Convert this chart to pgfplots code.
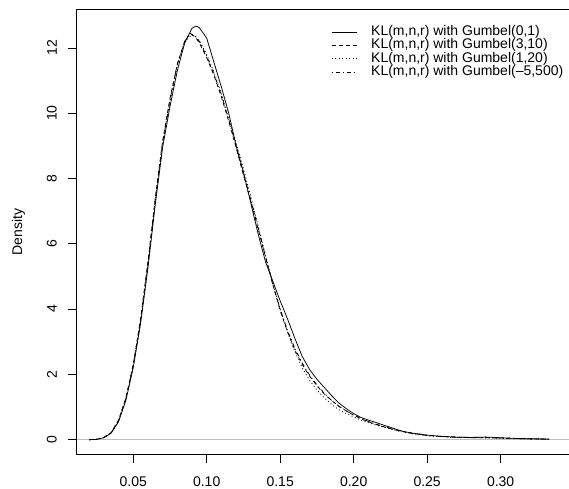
\documentclass[border=0pt]{standalone}
\usepackage{graphicx}
\usepackage{pgfplots}
\pgfplotsset{compat=1.18}
\usepackage{pgfplotstable}
\usepackage{fontspec}
\setmainfont{Liberation Sans}

\pgfplotstableread{
x y
0.020 0
0.025 0.01
0.030 0.06
0.035 0.2
0.040 0.55
0.045 1.2
0.050 2.2
0.055 3.55
0.060 5.25
0.065 7.2
0.070 8.95
0.075 10.2
0.080 11.3
0.085 12.15
0.090 12.6
0.0927 12.67
0.095 12.62
0.100 12.3
0.105 11.55
0.110 10.8
0.115 10.0
0.120 9.0
0.125 8.2
0.130 7.25
0.135 6.3
0.140 5.45
0.145 4.85
0.150 4.25
0.155 3.7
0.160 3.1
0.165 2.55
0.170 2.15
0.175 1.85
0.180 1.6
0.185 1.35
0.190 1.12
0.195 0.95
0.200 0.8
0.205 0.68
0.210 0.6
0.215 0.53
0.220 0.45
0.225 0.38
0.230 0.3
0.235 0.24
0.240 0.2
0.245 0.17
0.250 0.14
0.260 0.1
0.270 0.075
0.280 0.07
0.290 0.08
0.300 0.06
0.310 0.04
0.320 0.03
0.333 0.02
}\gumA

\pgfplotstableread{
x y
0.020 0
0.025 0.01
0.030 0.07
0.035 0.22
0.040 0.6
0.045 1.28
0.050 2.3
0.055 3.7
0.060 5.45
0.065 7.4
0.070 9.15
0.075 10.45
0.080 11.5
0.085 12.2
0.0886 12.43
0.092 12.35
0.095 12.15
0.100 11.7
0.105 11.15
0.110 10.5
0.115 9.75
0.120 8.95
0.125 8.1
0.130 7.3
0.135 6.45
0.140 5.6
0.145 4.75
0.150 3.95
0.155 3.3
0.160 2.75
0.165 2.3
0.170 1.95
0.175 1.65
0.180 1.4
0.185 1.2
0.190 1.02
0.195 0.88
0.200 0.75
0.205 0.64
0.210 0.55
0.215 0.47
0.220 0.4
0.225 0.34
0.230 0.28
0.240 0.19
0.250 0.13
0.260 0.1
0.270 0.08
0.280 0.06
0.290 0.06
0.300 0.05
0.310 0.035
0.320 0.025
0.333 0.015
}\gumB

\pgfplotstableread{
x y
0.020 0
0.025 0.01
0.030 0.06
0.035 0.21
0.040 0.57
0.045 1.25
0.050 2.25
0.055 3.6
0.060 5.35
0.065 7.3
0.070 9.05
0.075 10.35
0.080 11.45
0.085 12.15
0.0895 12.4
0.093 12.33
0.096 12.15
0.100 11.8
0.105 11.25
0.110 10.6
0.115 9.9
0.120 9.1
0.125 8.3
0.130 7.45
0.135 6.55
0.140 5.65
0.145 4.8
0.150 4.0
0.155 3.3
0.160 2.7
0.165 2.2
0.170 1.82
0.175 1.52
0.180 1.28
0.185 1.08
0.190 0.92
0.195 0.8
0.200 0.7
0.205 0.6
0.210 0.52
0.215 0.45
0.220 0.39
0.225 0.33
0.230 0.27
0.240 0.18
0.250 0.12
0.260 0.09
0.270 0.07
0.280 0.06
0.290 0.055
0.300 0.045
0.310 0.03
0.320 0.02
0.333 0.01
}\gumC

\pgfplotstableread{
x y
0.020 0
0.025 0.01
0.030 0.065
0.035 0.21
0.040 0.58
0.045 1.26
0.050 2.28
0.055 3.65
0.060 5.4
0.065 7.35
0.070 9.1
0.075 10.4
0.080 11.5
0.085 12.2
0.0885 12.45
0.092 12.38
0.095 12.2
0.100 11.75
0.105 11.2
0.110 10.55
0.115 9.8
0.120 9.0
0.125 8.15
0.130 7.35
0.135 6.5
0.140 5.6
0.145 4.75
0.150 4.0
0.155 3.35
0.160 2.8
0.165 2.35
0.170 1.98
0.175 1.68
0.180 1.42
0.185 1.2
0.190 1.02
0.195 0.88
0.200 0.76
0.205 0.65
0.210 0.56
0.215 0.48
0.220 0.41
0.225 0.35
0.230 0.29
0.240 0.2
0.250 0.14
0.260 0.1
0.270 0.08
0.280 0.065
0.290 0.07
0.300 0.05
0.310 0.035
0.320 0.025
0.333 0.015
}\gumD

\definecolor{rgray}{RGB}{190,190,190}

\begin{document}
\begin{tikzpicture}
\path (0pt,0pt) rectangle (569pt,489pt);
\begin{axis}[
  at={(76.5pt,34.5pt)}, anchor=south west,
  scale only axis,
  width=492.5pt, height=445pt,
  xmin=0.01138, xmax=0.34624,
  ymin=-0.4438, ymax=13.177,
  clip=false,
  unbounded coords=jump,
  axis line style={draw=none},
  xtick={0.05,0.10,0.15,0.20,0.25,0.30},
  ytick={0,2,4,6,8,10,12},
  xtick pos=bottom, ytick pos=left,
  /pgf/number format/assume math mode=true,
  xticklabel style={/pgf/number format/fixed, /pgf/number format/fixed zerofill, /pgf/number format/precision=2,
     font=\fontsize{14}{16}\selectfont, anchor=north, inner sep=0pt, yshift=-13.6pt},
  yticklabel={\rotatebox{90}{\pgfmathprintnumber{\tick}}},
  yticklabel style={font=\fontsize{14}{16}\selectfont, anchor=east, inner sep=0pt, xshift=-11pt},
  scaled x ticks=false,
  tick align=outside,
  major tick length=8.4pt,
  every tick/.style={draw=black, line width=0.8pt},
  ylabel={Density},
  every axis y label/.style={at={(axis description cs:-0.1178,0.5)}, rotate=90, anchor=center, font=\fontsize{14}{16}\selectfont},
  legend style={at={(axis description cs:0.5182,0.9645)}, anchor=north west, draw=none, fill=none,
     inner sep=0pt, outer sep=0pt, column sep=13.4pt, row sep=0pt,
     font=\fontsize{14}{16}\selectfont,
     nodes={inner sep=0pt, text height=10pt, text depth=3.4pt, anchor=west}},
  legend cell align=left,
  legend image code/.code={\draw[#1] (0pt,0pt) -- (25.6pt,0pt);},
]
% zero line
\addplot[rgray, line width=0.8pt, forget plot] coordinates {(0.01138,0) (0.34624,0)};
% frame (right side lies outside the picture)
\addplot[black, line width=0.8pt, forget plot] coordinates {(0.34624,-0.4438) (0.01138,-0.4438) (0.01138,13.177) (0.34624,13.177)};
% x ticks
\addplot[black, line width=0.8pt, forget plot] coordinates {
(0.05,-0.4438) (0.05,-0.7009) (0.05,nan)
(0.10,-0.4438) (0.10,-0.7009) (0.10,nan)
(0.15,-0.4438) (0.15,-0.7009) (0.15,nan)
(0.20,-0.4438) (0.20,-0.7009) (0.20,nan)
(0.25,-0.4438) (0.25,-0.7009) (0.25,nan)
(0.30,-0.4438) (0.30,-0.7009)};
% y ticks
\addplot[black, line width=0.8pt, forget plot] coordinates {
(0.01138,0) (0.00567,0) (nan,0)
(0.01138,2) (0.00567,2) (nan,2)
(0.01138,4) (0.00567,4) (nan,4)
(0.01138,6) (0.00567,6) (nan,6)
(0.01138,8) (0.00567,8) (nan,8)
(0.01138,10) (0.00567,10) (nan,10)
(0.01138,12) (0.00567,12)};
\addplot[black, line width=0.75pt] table[x=x,y=y] {\gumA};
\addlegendentry{KL(m,n,r) with Gumbel(0,1)}
\addplot[black, line width=0.75pt, dash pattern=on 4pt off 3pt] table[x=x,y=y] {\gumB};
\addlegendentry{KL(m,n,r) with Gumbel(3,10)}
\addplot[black, line width=0.75pt, dash pattern=on 1pt off 2.5pt] table[x=x,y=y] {\gumC};
\addlegendentry{KL(m,n,r) with Gumbel(1,20)}
\addplot[black, line width=0.75pt, dash pattern=on 1pt off 3pt on 4pt off 3pt] table[x=x,y=y] {\gumD};
\addlegendentry{KL(m,n,r) with Gumbel(\textendash5,500)}
\end{axis}
\end{tikzpicture}
\end{document}
